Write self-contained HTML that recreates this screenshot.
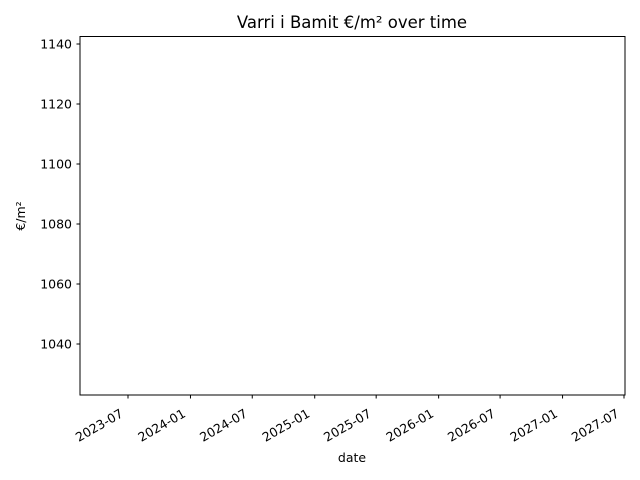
<!DOCTYPE html>
<html><head><meta charset="utf-8"><style>
html,body{margin:0;padding:0;background:#fff;}
svg{display:block;font-family:"DejaVu Sans","Liberation Sans",sans-serif;}
</style></head><body>
<svg id="chart" width="640" height="480" viewBox="0 0 640 480">
<text x="352" y="28" font-size="16.5" text-anchor="middle">Varri i Bamit €/m² over time</text>
<rect x="80" y="36.5" width="545" height="358.5" fill="none" stroke="#000" stroke-width="1"/>
<g id="yticks"></g>
<g id="xticks"></g>
<g id="series"></g>
<text x="352" y="462" font-size="12.5" text-anchor="middle">date</text>
<text transform="translate(25,216) rotate(-90)" font-size="12.5" text-anchor="middle">€/m²</text>
</svg>
<script>
const seriesDates = ["2025-07-01"];
const seriesValues = [1087];
const yTickValues = [1040, 1060, 1080, 1100, 1120, 1140];
const xTickLabels = ["2023-07","2024-01","2024-07","2025-01","2025-07","2026-01","2026-07","2027-01","2027-07"];

const NS = "http://www.w3.org/2000/svg";
const L = 80, R = 625, T = 36.5, B = 395;
const yMin = 1023, yMax = 1142.5;
function yScale(v){ return B - (v - yMin) / (yMax - yMin) * (B - T); }
const d0 = Date.UTC(2023,6,1), d1 = Date.UTC(2027,6,1);
const x0 = 128, x1 = 624;
function xScale(s){ const p = s.split("-"); const t = Date.UTC(+p[0], +p[1]-1, p[2]?+p[2]:1); return x0 + (t - d0) / (d1 - d0) * (x1 - x0); }

const yg = document.getElementById("yticks");
yTickValues.forEach(v => {
  const y = yScale(v);
  const ln = document.createElementNS(NS, "line");
  ln.setAttribute("x1", L - 3.5); ln.setAttribute("x2", L); ln.setAttribute("y1", y); ln.setAttribute("y2", y);
  ln.setAttribute("stroke", "#000");
  
  
  yg.appendChild(ln);
  const tx = document.createElementNS(NS, "text");
  tx.setAttribute("x", L - 8); tx.setAttribute("y", y + 4.5); tx.setAttribute("font-size", "12.5"); tx.setAttribute("text-anchor", "end");
  tx.textContent = v;
  
  
  yg.appendChild(tx);
});

const xg = document.getElementById("xticks");
xTickLabels.forEach(s => {
  const x = xScale(s);
  const ln = document.createElementNS(NS, "line");
  ln.setAttribute("x1", x); ln.setAttribute("x2", x); ln.setAttribute("y1", B); ln.setAttribute("y2", B + 3.5);
  ln.setAttribute("stroke", "#000");
  
  
  xg.appendChild(ln);
  const tx = document.createElementNS(NS, "text");
  tx.setAttribute("transform", "translate(" + (x - 4) + "," + (B + 21) + ") rotate(-30)");
  tx.setAttribute("font-size", "12.5"); tx.setAttribute("text-anchor", "end");
  tx.textContent = s;
  
  
  xg.appendChild(tx);
});

const sg = document.getElementById("series");
const pts = seriesDates.map((d, i) => xScale(d) + "," + yScale(seriesValues[i])).join(" ");
const pl = document.createElementNS(NS, "polyline");
pl.setAttribute("points", pts);
pl.setAttribute("fill", "none"); pl.setAttribute("stroke", "#1f77b4"); pl.setAttribute("stroke-width", "1.5");


sg.appendChild(pl);
</script>
</body></html>
